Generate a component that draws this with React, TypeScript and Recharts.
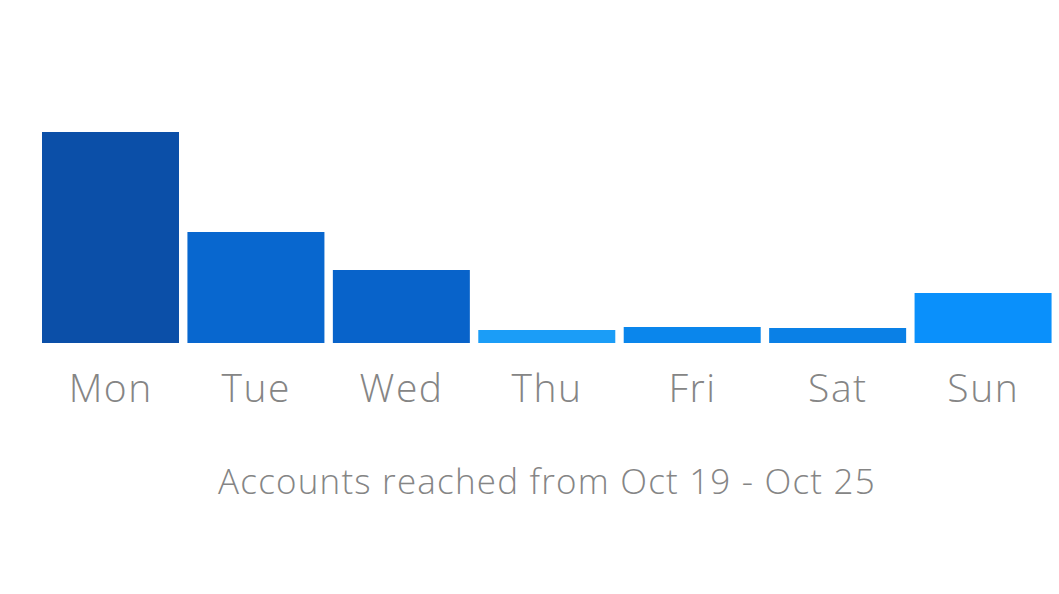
import React from "react";
import { BarChart, Bar, XAxis, YAxis, Cell, Label } from "recharts";

const days = ["Mon", "Tue", "Wed", "Thu", "Fri", "Sat", "Sun"];
const reached = [211, 111, 73, 13, 16, 15, 50];
const caption = "Accounts reached from Oct 19 - Oct 25";

const COLORS = ["#0b4fa8", "#0867cf", "#0863ca", "#1b9df7", "#0a86ec", "#0a80e6", "#0a90fb"];

const data = days.map((d, i) => ({ day: d, reached: reached[i] }));

export default function App() {
  return (
    <div style={{ position: "absolute", left: 0, top: 0, width: 1059, height: 594, background: "#fff" }}>
      <BarChart
        width={1059}
        height={594}
        data={data}
        margin={{ top: 132, right: 3, bottom: 91, left: 38 }}
        barCategoryGap={4}
      >
        <YAxis hide domain={[0, 211]} />
        <XAxis
          dataKey="day"
          axisLine={false}
          tickLine={false}
          tickSize={0}
          tickMargin={31}
          height={160}
          interval={0}
          tick={{ fill: "#858585", fontSize: 39, fontFamily: "Open Sans", fontWeight: 300, letterSpacing: 1.5 }}
        >
          <Label
            value={caption}
            position="insideBottom"
            offset={9}
            style={{ fill: "#858585", fontSize: 35, fontFamily: "Open Sans", fontWeight: 300, letterSpacing: 1.2 }}
          />
        </XAxis>
        <Bar dataKey="reached" isAnimationActive={false}>
          {data.map((_, i) => (
            <Cell key={i} fill={COLORS[i]} />
          ))}
        </Bar>
      </BarChart>
    </div>
  );
}
